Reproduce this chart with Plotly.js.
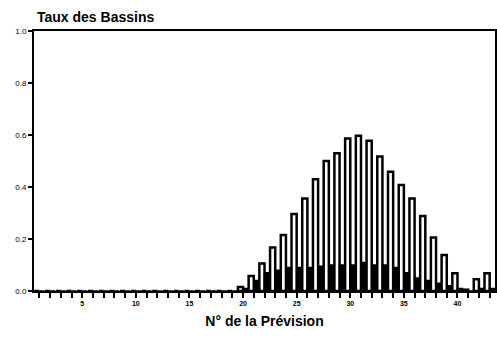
<!DOCTYPE html>
<html><head><meta charset="utf-8">
<script src="https://cdn.plot.ly/plotly-3.0.1.min.js"></script>
<style>html,body{margin:0;padding:0;background:#fff}#chart{width:497px;height:337px}</style>
</head><body><div id="chart"></div>
<script>
const prevision = Array.from({length: 43}, (_, i) => i + 1);
const tauxBlanc = [0,0,0,0,0,0,0,0,0,0,0,0,0,0,0,0,0,0,0,0.015,0.058,0.106,0.167,0.215,0.296,0.356,0.43,0.5,0.53,0.587,0.597,0.578,0.517,0.459,0.408,0.356,0.288,0.206,0.138,0.068,0.005,0.045,0.068];
const tauxNoir = [0,0,0,0,0,0,0,0,0,0,0,0,0,0,0,0,0,0,0,0.01,0.04,0.07,0.08,0.09,0.09,0.09,0.095,0.1,0.1,0.1,0.11,0.1,0.1,0.09,0.07,0.05,0.04,0.03,0.02,0.01,0,0.01,0.01];
const xTickText = prevision.map(v => v % 5 === 0 ? String(v) : '');
const yTickVals = [0, 0.2, 0.4, 0.6, 0.8, 1.0];
const yTickText = ['0.0','0.2','0.4','0.6','0.8','1.0'];

const traces = [
  {type:'bar', x: prevision, y: tauxBlanc, marker:{color:'#ffffff', line:{color:'#000', width:2.5}}, hoverinfo:'none'},
  {type:'bar', x: prevision, y: tauxNoir, marker:{color:'#000000', line:{color:'#000', width:1.5}}, hoverinfo:'none'}
];
const layout = {
  width: 497, height: 337,
  margin: {l: 34, r: 2, t: 31, b: 46},
  paper_bgcolor: '#fff', plot_bgcolor: '#fff',
  showlegend: false,
  barmode: 'group', bargap: 0.04, bargroupgap: 0,
  font: {family: 'Liberation Sans, Arial, sans-serif', color: '#000'},
  title: {text: '<b>Taux des Bassins</b>', font: {size: 14, color: '#000'}, x: 37/497, xref: 'container', xanchor: 'left', y: 1 - 17/337, yref: 'container', yanchor: 'middle'},
  xaxis: {
    range: [0.5, 43.5], tickvals: prevision, ticktext: xTickText,
    ticks: 'outside', ticklen: 5, tickwidth: 2, tickcolor: '#000',
    showline: true, linewidth: 2, linecolor: '#000', mirror: true,
    showgrid: false, zeroline: false,
    tickfont: {size: 7, color: '#000', weight: 'bold'},
    title: {text: '<b>N° de la Prévision</b>', font: {size: 14, color: '#000'}, standoff: 10}
  },
  yaxis: {
    range: [0, 1.0], tickvals: yTickVals, ticktext: yTickText,
    ticks: 'outside', ticklen: 4, tickwidth: 2, tickcolor: '#000',
    showline: true, linewidth: 2, linecolor: '#000', mirror: true,
    showgrid: false, zeroline: false,
    tickfont: {size: 8, color: '#000'}
  }
};
Plotly.newPlot('chart', traces, layout, {staticPlot: true, displayModeBar: false});
</script></body></html>
